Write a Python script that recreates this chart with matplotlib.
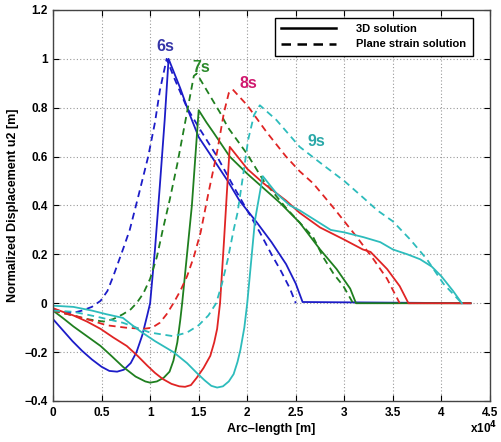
import matplotlib
matplotlib.use("Agg")
import matplotlib.pyplot as plt

plt.rcParams['font.family'] = ['Liberation Sans', 'DejaVu Sans']
plt.rcParams['font.weight'] = 'bold'

# arc-length in units of 1e4 m, normalized displacement u2
# 6s
blue_x_3d = [0, 0.1, 0.2, 0.3, 0.4, 0.5, 0.58, 0.66, 0.73, 0.8, 0.86, 0.92, 0.97, 1.0, 1.05,
             1.1, 1.15, 1.19, 1.25, 1.31, 1.4, 1.5, 1.65, 1.8, 1.92, 2.1, 2.25, 2.4, 2.5, 2.57, 4.3]
blue_y_3d = [-0.065, -0.11, -0.155, -0.195, -0.23, -0.26, -0.277, -0.28, -0.272, -0.245, -0.2,
             -0.13, -0.05, 0.0, 0.22, 0.48, 0.75, 1.0, 0.94, 0.88, 0.78, 0.68, 0.59, 0.5, 0.42,
             0.33, 0.25, 0.16, 0.08, 0.005, 0.0]
blue_x_ps = [0, 0.1, 0.2, 0.3, 0.4, 0.49, 0.56, 0.62, 0.72, 0.79, 0.88, 0.98, 1.05, 1.1, 1.17,
             1.25, 1.38, 1.5, 1.69, 1.87, 2.0, 2.13, 2.25, 2.35, 2.44, 2.5]
blue_y_ps = [-0.025, -0.035, -0.04, -0.03, -0.015, 0.01, 0.05, 0.11, 0.22, 0.3, 0.44, 0.6, 0.74,
             0.87, 1.0, 0.92, 0.8, 0.72, 0.6, 0.47, 0.38, 0.29, 0.2, 0.13, 0.06, 0.0]

# 7s
green_x_3d = [0, 0.1, 0.21, 0.35, 0.49, 0.6, 0.72, 0.85, 0.95, 1.0, 1.07, 1.14, 1.2, 1.24, 1.28,
              1.31, 1.33, 1.43, 1.5, 1.58, 1.65, 1.82, 2.0, 2.17, 2.34, 2.54, 2.75, 2.92, 3.06,
              3.12, 4.3]
green_y_3d = [-0.03, -0.06, -0.095, -0.135, -0.175, -0.215, -0.26, -0.3, -0.32, -0.325, -0.32,
              -0.305, -0.28, -0.235, -0.16, -0.07, 0.0, 0.4, 0.79, 0.74, 0.7, 0.6, 0.53, 0.47,
              0.41, 0.33, 0.22, 0.14, 0.06, 0.0, 0.0]
green_x_ps = [0, 0.1, 0.21, 0.35, 0.52, 0.62, 0.72, 0.8, 0.86, 0.93, 1.0, 1.07, 1.13, 1.2, 1.28,
              1.37, 1.45, 1.48, 1.6, 1.72, 1.8, 2.0, 2.17, 2.4, 2.68, 2.78, 2.89, 2.99, 3.09]
green_y_ps = [-0.03, -0.04, -0.05, -0.065, -0.075, -0.065, -0.045, -0.025, 0.0, 0.04, 0.1, 0.19,
              0.3, 0.42, 0.57, 0.76, 0.93, 0.94, 0.86, 0.78, 0.72, 0.61, 0.5, 0.39, 0.27, 0.19,
              0.12, 0.07, 0.0]

# 8s
red_x_3d = [0, 0.1, 0.21, 0.35, 0.49, 0.62, 0.76, 0.87, 0.97, 1.05, 1.13, 1.22, 1.3, 1.36, 1.42,
            1.48, 1.55, 1.62, 1.66, 1.69, 1.72, 1.76, 1.79, 1.82, 1.9, 2.0, 2.17, 2.4, 2.54, 2.75,
            3.0, 3.19, 3.27, 3.44, 3.57, 3.66, 4.3]
red_y_3d = [-0.02, -0.035, -0.05, -0.075, -0.105, -0.14, -0.175, -0.215, -0.255, -0.285, -0.31,
            -0.33, -0.34, -0.342, -0.335, -0.305, -0.265, -0.215, -0.16, -0.105, 0.0, 0.25, 0.45,
            0.64, 0.6, 0.55, 0.49, 0.42, 0.37, 0.31, 0.26, 0.22, 0.21, 0.14, 0.07, 0.0, 0.0]
red_x_ps = [0, 0.1, 0.21, 0.35, 0.55, 0.75, 0.93, 1.02, 1.1, 1.17, 1.24, 1.31, 1.38, 1.45, 1.52,
            1.6, 1.69, 1.76, 1.81, 1.85, 2.0, 2.2, 2.4, 2.54, 2.68, 2.89, 3.13, 3.3, 3.44, 3.57]
red_y_ps = [-0.03, -0.04, -0.05, -0.065, -0.09, -0.1, -0.105, -0.1, -0.08, -0.045, 0.0, 0.05,
            0.11, 0.19, 0.29, 0.45, 0.62, 0.78, 0.86, 0.875, 0.81, 0.7, 0.6, 0.54, 0.49, 0.39,
            0.27, 0.18, 0.1, 0.0]

# 9s
cyan_x_3d = [0, 0.21, 0.4, 0.55, 0.72, 0.8, 0.9, 1.05, 1.24, 1.38, 1.48, 1.56, 1.63, 1.69, 1.75,
             1.81, 1.86, 1.9, 1.93, 1.97, 2.0, 2.08, 2.16, 2.3, 2.44, 2.54, 2.7, 2.86, 3.0, 3.2,
             3.37, 3.5, 3.65, 3.78, 3.9, 4.0, 4.12, 4.21]
cyan_y_3d = [-0.01, -0.015, -0.03, -0.045, -0.06, -0.085, -0.115, -0.155, -0.2, -0.245, -0.285,
             -0.315, -0.338, -0.345, -0.34, -0.32, -0.29, -0.24, -0.19, -0.1, 0.0, 0.34, 0.52,
             0.45, 0.4, 0.38, 0.34, 0.3, 0.29, 0.27, 0.25, 0.22, 0.2, 0.18, 0.15, 0.11, 0.05, 0.0]
cyan_x_ps = [0, 0.21, 0.45, 0.72, 1.0, 1.24, 1.38, 1.5, 1.6, 1.68, 1.74, 1.8, 1.86, 1.9, 1.96,
             2.01, 2.07, 2.13, 2.3, 2.54, 2.8, 3.0, 3.2, 3.34, 3.5, 3.68, 3.85, 4.02, 4.21]
cyan_y_ps = [-0.03, -0.035, -0.055, -0.08, -0.12, -0.135, -0.12, -0.09, -0.05, 0.0, 0.08, 0.18,
             0.3, 0.37, 0.53, 0.67, 0.77, 0.81, 0.75, 0.64, 0.56, 0.5, 0.43, 0.38, 0.335, 0.26,
             0.18, 0.08, 0.0]

series = [
    ("6s", "#1c1cc8", "#3535a8", blue_x_3d, blue_y_3d, blue_x_ps, blue_y_ps, (1.16, 1.05)),
    ("7s", "#1f7f1f", "#2a8a2a", green_x_3d, green_y_3d, green_x_ps, green_y_ps, (1.53, 0.965)),
    ("8s", "#e02424", "#d0186e", red_x_3d, red_y_3d, red_x_ps, red_y_ps, (2.01, 0.9)),
    ("9s", "#2dbcbc", "#2aa8a8", cyan_x_3d, cyan_y_3d, cyan_x_ps, cyan_y_ps, (2.71, 0.66)),
]

fig = plt.figure(figsize=(5.02, 4.42), dpi=100)
ax = fig.add_axes([0.1056, 0.0928, 0.8705, 0.8846])

for name, col, tcol, x3, y3, xp, yp, pos in series:
    ax.plot(x3, y3, color=col, lw=1.3)
    ax.plot(xp, yp, color=col, lw=1.3, dashes=(3.8, 2.6))
    ax.text(pos[0], pos[1], name, color=tcol, fontsize=11.5, fontweight='bold',
            ha='center', va='center')

# legend entries in black
ax.plot([], [], color='black', lw=1.8, label='3D solution')
ax.plot([], [], color='black', lw=1.8, dashes=(3.8, 2.6), label='Plane strain solution')
leg = ax.legend(loc='upper right', bbox_to_anchor=(0.96, 0.98), borderaxespad=0,
                fancybox=False, framealpha=1, edgecolor='black', fontsize=8,
                handlelength=5, handletextpad=1.8, borderpad=0.55, labelspacing=0.5)
leg.get_frame().set_linewidth(1.0)
for t in leg.get_texts():
    t.set_fontweight('bold')

ax.set_xlim(0, 4.5)
ax.set_ylim(-0.4, 1.2)
ax.set_xticks([0, 0.5, 1, 1.5, 2, 2.5, 3, 3.5, 4, 4.5])
ax.set_xticklabels(['0', '0.5', '1', '1.5', '2', '2.5', '3', '3.5', '4', '4.5'])
ax.set_yticks([-0.4, -0.2, 0, 0.2, 0.4, 0.6, 0.8, 1, 1.2])
ax.set_yticklabels(['\u22120.4', '\u22120.2', '0', '0.2', '0.4', '0.6', '0.8', '1', '1.2'])
ax.grid(True, linestyle=(0, (1, 2)), color='#999999', lw=0.8)
ax.tick_params(direction='in', top=True, right=True, length=4, labelsize=8.5, pad=4)
for s in ax.spines.values():
    s.set_color('#444444')
    s.set_linewidth(1.0)

ax.set_xlabel('Arc\u2013length [m]', fontsize=9, fontweight='bold', labelpad=3)
ax.set_ylabel('Normalized Displacement u2 [m]', fontsize=9, fontweight='bold', labelpad=4)
fig.text(0.99, 0.012, r'x10$^{4}$', ha='right', va='bottom', fontsize=8.5, fontweight='bold')

fig.savefig('out.png', dpi=100)
